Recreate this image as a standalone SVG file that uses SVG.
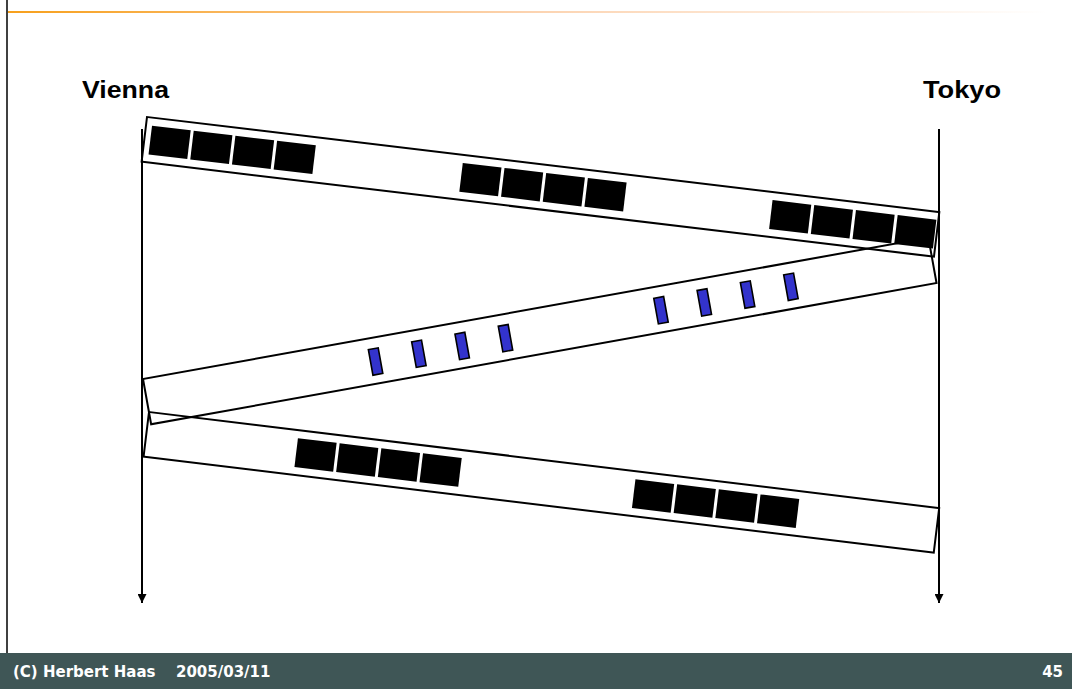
<svg xmlns="http://www.w3.org/2000/svg" width="1072" height="689" viewBox="0 0 1072 689">
<defs>
<linearGradient id="og" x1="0" y1="0" x2="1" y2="0">
<stop offset="0" stop-color="#f7a01c"/>
<stop offset="0.5" stop-color="#fcd3b0"/>
<stop offset="1" stop-color="#ffffff"/>
</linearGradient>
<marker id="arr" viewBox="0 0 10 10" refX="10" refY="5" markerWidth="4.5" markerHeight="4.5" orient="auto" markerUnits="strokeWidth">
<path d="M0,0 L10,5 L0,10 z" fill="#000"/>
</marker>
<style>
.band{fill:none;stroke:#000;stroke-width:2}
.sq{fill:#000}
.bar{fill:#3333cc;stroke:#000;stroke-width:1.6}
.lbl{font-family:"Liberation Sans",Arial,sans-serif;font-weight:bold;font-size:23px;fill:#000}
.ft{font-family:"DejaVu Sans",Verdana,sans-serif;font-weight:bold;font-size:15px;fill:#fff}
.tl{stroke:#000;stroke-width:2;fill:none}
</style>
</defs>
<rect width="1072" height="689" fill="#fff"/>
<line x1="7" y1="0" x2="7" y2="653" stroke="#000" stroke-width="1.5"/>
<rect x="8" y="11" width="1040" height="2" fill="url(#og)"/>

<g id="labels">
<text class="lbl" x="82" y="98" textLength="87" lengthAdjust="spacingAndGlyphs">Vienna</text>
<text class="lbl" x="923" y="98" textLength="78" lengthAdjust="spacingAndGlyphs">Tokyo</text>
</g>

<g id="connectors">
<line class="tl" x1="142" y1="129" x2="142" y2="603" marker-end="url(#arr)"/>
<line class="tl" x1="939" y1="129" x2="939" y2="603" marker-end="url(#arr)"/>
</g>

<g id="band-top" transform="translate(147,117) rotate(6.84)">
<rect class="band" x="0" y="0" width="798" height="45"/>
<rect class="sq" x="6" y="8" width="39" height="29"/>
<rect class="sq" x="48" y="8" width="39" height="29"/>
<rect class="sq" x="90" y="8" width="39" height="29"/>
<rect class="sq" x="132" y="8" width="39" height="29"/>
<rect class="sq" x="319" y="8" width="39" height="29"/>
<rect class="sq" x="361" y="8" width="39" height="29"/>
<rect class="sq" x="403" y="8" width="39" height="29"/>
<rect class="sq" x="445" y="8" width="39" height="29"/>
<rect class="sq" x="631" y="8" width="39" height="29"/>
<rect class="sq" x="673" y="8" width="39" height="29"/>
<rect class="sq" x="715" y="8" width="39" height="29"/>
<rect class="sq" x="757" y="8" width="39" height="29"/>
</g>

<g id="band-middle" transform="translate(143,379) rotate(-10.2)">
<rect class="band" x="0" y="0" width="798" height="46"/>
<rect class="bar" x="227" y="11" width="10" height="26"/>
<rect class="bar" x="271" y="11" width="10" height="26"/>
<rect class="bar" x="315" y="11" width="10" height="26"/>
<rect class="bar" x="359" y="11" width="10" height="26"/>
<rect class="bar" x="517" y="11" width="10" height="26"/>
<rect class="bar" x="561" y="11" width="10" height="26"/>
<rect class="bar" x="605" y="11" width="10" height="26"/>
<rect class="bar" x="649" y="11" width="10" height="26"/>
</g>

<g id="band-bottom" transform="translate(149,412) rotate(6.93)">
<rect class="band" x="0" y="0" width="796" height="45"/>
<rect class="sq" x="151" y="8" width="39" height="29"/>
<rect class="sq" x="193" y="8" width="39" height="29"/>
<rect class="sq" x="235" y="8" width="39" height="29"/>
<rect class="sq" x="277" y="8" width="39" height="29"/>
<rect class="sq" x="491" y="8" width="39" height="29"/>
<rect class="sq" x="533" y="8" width="39" height="29"/>
<rect class="sq" x="575" y="8" width="39" height="29"/>
<rect class="sq" x="617" y="8" width="39" height="29"/>
</g>

<g id="footer">
<rect x="0" y="653" width="1072" height="36" fill="#3f5656"/>
<text class="ft" x="13" y="677">(C) Herbert Haas</text>
<text class="ft" x="176" y="677">2005/03/11</text>
<text class="ft" x="1063" y="677" text-anchor="end">45</text>
</g>
</svg>
